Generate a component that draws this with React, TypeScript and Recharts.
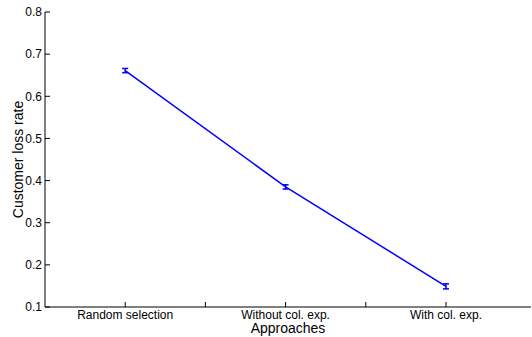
import React from 'react';
import { LineChart, Line, XAxis, YAxis, ErrorBar } from 'recharts';

const categories = ['Random selection', 'Without col. exp.', 'With col. exp.'];
const positions = [1, 2, 3];
const lossRate = [0.661, 0.385, 0.149];
const lossErr = [0.005, 0.005, 0.006];
const yTicks = [0.1, 0.2, 0.3, 0.4, 0.5, 0.6, 0.7, 0.8];
const xTicks = [1, 1.5, 2, 2.5, 3];

const data = positions.map((x, i) => ({ x, rate: lossRate[i], err: lossErr[i] }));

const FONT = '"Liberation Sans", Arial, Helvetica, sans-serif';

const YLabel = () => (
  <text
    x={23}
    y={159.5}
    transform="rotate(-90 23 159.5)"
    textAnchor="middle"
    fontSize={14}
    fill="#000"
    fontFamily={FONT}
  >
    Customer loss rate
  </text>
);

export default function App() {
  return (
    <div style={{ position: 'absolute', left: 0, top: 0, fontFamily: FONT, background: '#fff' }}>
      <LineChart width={532} height={337} data={data} margin={{ top: 12, right: 1, bottom: 0, left: 0 }}>
        <XAxis
          type="number"
          dataKey="x"
          domain={[0.5, 3.53]}
          ticks={xTicks}
          interval={0}
          allowDataOverflow
          height={30}
          tickSize={-5}
          tickMargin={8}
          stroke="#000"
          tick={{ fontSize: 12, fill: '#000' }}
          tickFormatter={(v: number) => (Number.isInteger(v) ? categories[positions.indexOf(v)] : '')}
          label={{ value: 'Approaches', position: 'insideBottom', offset: 4, fontSize: 14, fill: '#000' }}
        />
        <YAxis
          type="number"
          domain={[0.1, 0.8]}
          ticks={yTicks}
          interval={0}
          width={45}
          tickSize={-5}
          tickMargin={8}
          stroke="#000"
          tick={{ fontSize: 12, fill: '#000' }}
          tickFormatter={(v: number) => v.toFixed(1)}
          label={<YLabel />}
        />
        <Line
          dataKey="rate"
          stroke="#0000ff"
          strokeWidth={1.5}
          dot={false}
          isAnimationActive={false}
        >
          <ErrorBar dataKey="err" width={3} stroke="#0000ff" strokeWidth={1.5} direction="y" isAnimationActive={false} />
        </Line>
      </LineChart>
    </div>
  );
}
